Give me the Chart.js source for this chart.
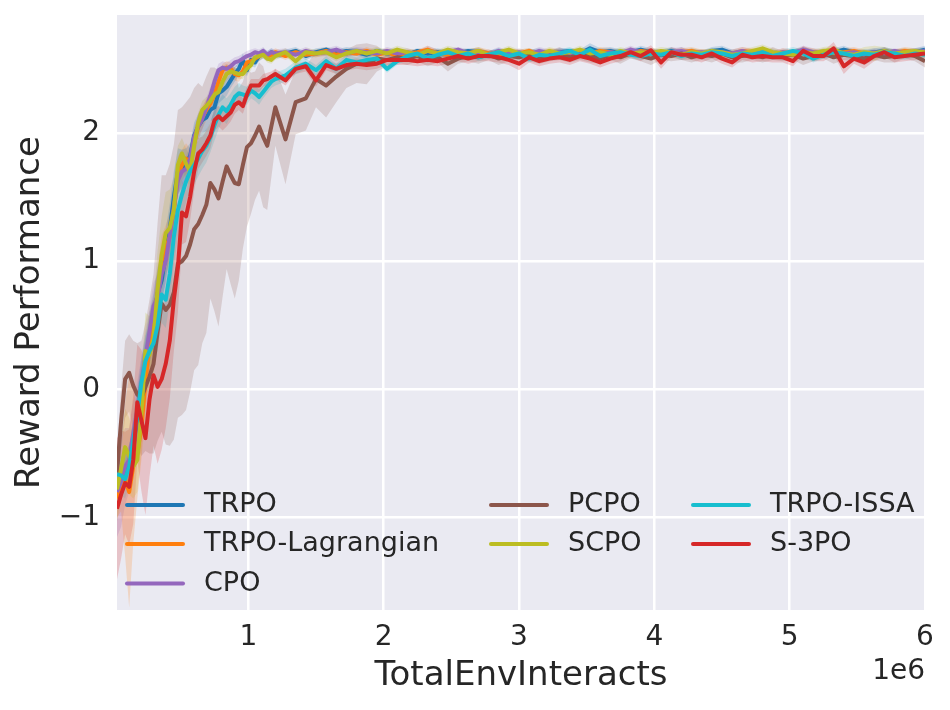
<!DOCTYPE html>
<html><head><meta charset="utf-8">
<script src="https://cdn.jsdelivr.net/npm/chart.js@4.4.0/dist/chart.umd.min.js"></script>
<style>html,body{margin:0;padding:0;background:#fff}#wrap{width:950px;height:710px;position:relative}</style>
</head><body><div id="wrap"><canvas id="c"></canvas></div>
<script>
// ---- data ----
const steps = [30000,60000,90000,120000,150000,180000,210000,240000,270000,300000,
330000,360000,390000,420000,450000,480000,510000,540000,570000,600000,
630000,660000,690000,720000,750000,780000,810000,840000,870000,900000,
930000,960000,990000,1020000,1050000,1080000,1110000,1140000,1170000,1200000,
1275000,1350000,1425000,1500000,1575000,1650000,1725000,1800000,1875000,1950000,
2025000,2100000,2175000,2250000,2325000,2400000,2475000,2550000,2625000,2700000,
2775000,2850000,2925000,3000000,3075000,3150000,3225000,3300000,3375000,3450000,
3525000,3600000,3675000,3750000,3825000,3900000,3975000,4050000,4125000,4200000,
4275000,4350000,4425000,4500000,4575000,4650000,4725000,4800000,4875000,4950000,
5025000,5100000,5175000,5250000,5325000,5400000,5475000,5550000,5625000,5700000,
5775000,5850000,5925000,6000000];

const seriesNames = ['TRPO','TRPO-Lagrangian','CPO','PCPO','SCPO','TRPO-ISSA','S-3PO'];
const seriesColors = ['#1f77b4','#ff7f0e','#9467bd','#8c564b','#bcbd22','#17becf','#d62728'];

const trpo = [-0.75,-0.70,-0.62,-0.58,-0.45,-0.20,0.00,0.20,0.40,0.55,
0.75,0.85,1.05,1.25,1.50,1.70,1.72,1.76,1.82,1.98,
2.05,2.10,2.12,2.18,2.20,2.31,2.33,2.36,2.41,2.46,
2.50,2.57,2.49,2.57,2.55,2.60,2.62,2.60,2.63,2.61,
2.62,2.64,2.60,2.63,2.65,2.62,2.64,2.63,2.61,2.64,
2.62,2.63,2.61,2.64,2.62,2.63,2.61,2.62,2.64,2.63,
2.61,2.63,2.62,2.60,2.62,2.63,2.61,2.63,2.64,2.62,
2.66,2.63,2.64,2.62,2.63,2.65,2.63,2.62,2.64,2.62,
2.63,2.61,2.64,2.65,2.62,2.63,2.61,2.63,2.62,2.60,
2.63,2.64,2.62,2.61,2.63,2.65,2.63,2.62,2.63,2.64,
2.62,2.63,2.63,2.65];
const trpoStd = [0.10,0.10,0.12,0.15,0.15,0.18,0.20,0.20,0.20,0.20,
0.20,0.20,0.20,0.20,0.20,0.18,0.15,0.12,0.10,0.10,
0.10,0.10,0.10,0.09,0.08,0.08,0.07,0.07,0.06,0.06,
0.05,0.05,0.05,0.05,0.04,0.04,0.04,0.04,0.03,0.03,
0.03,0.03,0.03,0.03,0.02,0.03,0.03,0.03,0.03,0.02,
0.03,0.03,0.03,0.02,0.03,0.03,0.03,0.03,0.02,0.03,
0.03,0.03,0.02,0.03,0.03,0.03,0.03,0.03,0.02,0.03,
0.04,0.03,0.03,0.03,0.02,0.03,0.03,0.03,0.03,0.02,
0.03,0.03,0.03,0.03,0.03,0.02,0.03,0.03,0.03,0.03,
0.02,0.03,0.03,0.03,0.03,0.03,0.02,0.03,0.03,0.03,
0.03,0.02,0.03,0.03];

const trpoLag = [-0.85,-0.75,-0.70,-0.80,-0.60,-0.50,-0.30,0.05,0.35,0.50,
0.75,1.00,1.10,1.19,1.40,1.67,1.75,1.80,1.78,1.92,
2.05,2.12,2.18,2.23,2.30,2.40,2.49,2.51,2.50,2.46,
2.45,2.48,2.55,2.56,2.58,2.60,2.62,2.59,2.61,2.63,
2.60,2.63,2.61,2.62,2.64,2.61,2.63,2.62,2.64,2.61,
2.63,2.60,2.62,2.63,2.65,2.62,2.61,2.63,2.62,2.64,
2.62,2.61,2.63,2.62,2.64,2.61,2.63,2.62,2.60,2.63,
2.62,2.64,2.63,2.61,2.62,2.64,2.63,2.62,2.61,2.63,
2.64,2.62,2.63,2.61,2.62,2.64,2.63,2.62,2.61,2.63,
2.62,2.64,2.63,2.62,2.61,2.63,2.64,2.62,2.61,2.63,
2.62,2.64,2.63,2.62];
const trpoLagStd = [0.15,0.20,0.60,0.90,0.60,0.35,0.25,0.25,0.25,0.22,
0.20,0.20,0.18,0.18,0.15,0.15,0.12,0.12,0.10,0.10,
0.10,0.09,0.08,0.08,0.07,0.06,0.05,0.05,0.05,0.05,
0.05,0.04,0.04,0.04,0.04,0.04,0.03,0.03,0.03,0.03,
0.03,0.03,0.02,0.03,0.03,0.03,0.03,0.02,0.03,0.03,
0.03,0.03,0.03,0.02,0.03,0.03,0.03,0.02,0.03,0.03,
0.03,0.03,0.03,0.03,0.02,0.03,0.03,0.03,0.03,0.03,
0.02,0.03,0.03,0.03,0.03,0.02,0.03,0.03,0.03,0.03,
0.03,0.03,0.02,0.03,0.03,0.03,0.03,0.02,0.03,0.03,
0.03,0.03,0.03,0.02,0.03,0.03,0.03,0.03,0.02,0.03,
0.03,0.03,0.03,0.03];

const cpo = [-0.80,-0.72,-0.60,-0.55,-0.34,-0.16,0.05,0.25,0.45,0.65,
0.72,0.90,1.00,1.20,1.42,1.63,1.70,1.72,1.80,1.97,
2.05,2.11,2.20,2.29,2.40,2.49,2.51,2.50,2.52,2.55,
2.56,2.58,2.60,2.61,2.63,2.62,2.64,2.61,2.63,2.62,
2.63,2.61,2.64,2.62,2.63,2.65,2.62,2.64,2.63,2.62,
2.64,2.62,2.63,2.61,2.64,2.62,2.63,2.65,2.62,2.63,
2.61,2.64,2.62,2.63,2.61,2.64,2.62,2.63,2.62,2.64,
2.63,2.61,2.63,2.62,2.65,2.63,2.62,2.61,2.63,2.64,
2.62,2.63,2.61,2.63,2.62,2.64,2.62,2.63,2.61,2.63,
2.62,2.65,2.63,2.62,2.64,2.62,2.63,2.61,2.63,2.62,
2.64,2.62,2.63,2.64];
const cpoStd = [0.35,0.35,0.30,0.25,0.25,0.22,0.20,0.20,0.18,0.18,
0.18,0.18,0.18,0.15,0.15,0.12,0.10,0.10,0.10,0.08,
0.08,0.08,0.07,0.07,0.06,0.05,0.05,0.05,0.05,0.04,
0.04,0.04,0.04,0.04,0.03,0.03,0.03,0.03,0.03,0.03,
0.03,0.03,0.03,0.02,0.03,0.03,0.03,0.03,0.03,0.02,
0.03,0.03,0.03,0.03,0.04,0.03,0.03,0.02,0.03,0.03,
0.03,0.03,0.02,0.03,0.03,0.03,0.03,0.03,0.03,0.02,
0.03,0.03,0.03,0.03,0.03,0.02,0.03,0.03,0.03,0.03,
0.03,0.02,0.03,0.03,0.03,0.03,0.03,0.02,0.03,0.03,
0.03,0.03,0.03,0.03,0.02,0.03,0.03,0.03,0.03,0.03,
0.02,0.03,0.03,0.03];

const pcpo = [-0.65,-0.25,0.08,0.13,0.03,-0.04,-0.07,0.02,0.10,0.20,
0.45,0.67,0.62,0.66,0.76,0.98,1.00,1.04,1.13,1.25,
1.29,1.36,1.44,1.61,1.56,1.49,1.62,1.74,1.67,1.61,
1.60,1.75,1.89,1.92,1.98,2.05,1.97,1.90,2.05,2.20,
1.95,2.24,2.27,2.42,2.37,2.44,2.50,2.54,2.54,2.58,
2.57,2.59,2.58,2.60,2.57,2.59,2.54,2.58,2.60,2.59,
2.61,2.58,2.60,2.59,2.61,2.58,2.60,2.62,2.59,2.61,
2.60,2.58,2.61,2.59,2.62,2.60,2.58,2.61,2.60,2.62,
2.59,2.61,2.60,2.62,2.59,2.60,2.61,2.59,2.62,2.60,
2.61,2.58,2.60,2.62,2.59,2.61,2.60,2.58,2.61,2.59,
2.60,2.62,2.60,2.56];
const pcpoStd = [0.15,0.25,0.30,0.30,0.35,0.40,0.45,0.50,0.60,0.70,
0.85,1.00,1.05,1.10,1.15,1.20,1.20,1.20,1.15,1.10,
1.10,1.00,1.00,0.90,0.95,1.00,0.90,0.80,0.85,0.90,
0.75,0.65,0.62,0.55,0.50,0.50,0.55,0.50,0.40,0.30,
0.35,0.25,0.25,0.22,0.25,0.20,0.15,0.15,0.16,0.10,
0.05,0.04,0.05,0.04,0.05,0.04,0.06,0.04,0.04,0.05,
0.04,0.05,0.04,0.04,0.05,0.04,0.04,0.05,0.04,0.04,
0.05,0.04,0.04,0.05,0.04,0.04,0.05,0.04,0.04,0.05,
0.04,0.04,0.05,0.04,0.04,0.05,0.04,0.04,0.05,0.04,
0.04,0.05,0.04,0.04,0.05,0.04,0.04,0.05,0.04,0.04,
0.05,0.04,0.04,0.05];

const scpo = [-0.78,-0.62,-0.45,-0.52,-0.60,-0.55,-0.20,0.30,0.27,0.40,
0.78,1.05,1.22,1.26,1.40,1.75,1.84,1.76,1.70,1.90,
2.08,2.18,2.21,2.25,2.30,2.32,2.40,2.46,2.48,2.47,
2.46,2.46,2.50,2.53,2.59,2.60,2.61,2.58,2.57,2.60,
2.63,2.56,2.63,2.62,2.63,2.59,2.62,2.64,2.62,2.64,
2.62,2.65,2.63,2.61,2.64,2.62,2.65,2.63,2.62,2.64,
2.61,2.63,2.65,2.62,2.63,2.61,2.64,2.62,2.63,2.65,
2.62,2.63,2.61,2.64,2.62,2.63,2.62,2.64,2.63,2.61,
2.63,2.62,2.64,2.63,2.61,2.62,2.64,2.66,2.63,2.62,
2.61,2.63,2.62,2.64,2.65,2.62,2.61,2.63,2.62,2.64,
2.62,2.63,2.64,2.63];
const scpoStd = [0.25,0.25,0.30,0.30,0.25,0.25,0.30,0.30,0.30,0.30,
0.30,0.30,0.32,0.30,0.25,0.15,0.12,0.12,0.12,0.10,
0.08,0.07,0.07,0.06,0.06,0.05,0.05,0.05,0.05,0.04,
0.04,0.04,0.04,0.04,0.03,0.03,0.03,0.03,0.03,0.03,
0.03,0.04,0.03,0.03,0.03,0.03,0.03,0.02,0.03,0.03,
0.03,0.03,0.03,0.03,0.02,0.03,0.03,0.03,0.03,0.03,
0.03,0.02,0.03,0.03,0.03,0.03,0.03,0.03,0.02,0.03,
0.03,0.03,0.03,0.03,0.03,0.02,0.03,0.03,0.03,0.03,
0.03,0.03,0.02,0.03,0.03,0.03,0.03,0.03,0.03,0.02,
0.03,0.03,0.03,0.03,0.03,0.03,0.03,0.04,0.06,0.03,
0.03,0.03,0.02,0.03];

const trpoIssa = [-0.66,-0.67,-0.70,-0.60,-0.40,-0.20,0.05,0.22,0.30,0.36,
0.50,0.74,0.70,0.90,1.19,1.40,1.52,1.62,1.70,1.75,
1.80,1.86,1.90,1.97,2.06,2.14,2.20,2.17,2.22,2.28,
2.31,2.30,2.29,2.33,2.31,2.28,2.32,2.36,2.40,2.42,
2.45,2.51,2.54,2.49,2.56,2.50,2.57,2.55,2.57,2.58,
2.50,2.56,2.60,2.62,2.58,2.61,2.63,2.60,2.62,2.59,
2.61,2.63,2.60,2.62,2.58,2.61,2.60,2.62,2.64,2.61,
2.65,2.60,2.62,2.63,2.61,2.60,2.62,2.61,2.63,2.60,
2.62,2.61,2.63,2.62,2.60,2.62,2.61,2.63,2.60,2.62,
2.64,2.62,2.58,2.61,2.63,2.62,2.60,2.62,2.61,2.63,
2.62,2.60,2.62,2.61];
const trpoIssaStd = [0.15,0.15,0.15,0.15,0.18,0.20,0.20,0.20,0.20,0.20,
0.20,0.22,0.22,0.22,0.22,0.20,0.18,0.16,0.15,0.15,
0.14,0.14,0.13,0.12,0.12,0.11,0.10,0.10,0.09,0.08,
0.08,0.07,0.07,0.06,0.06,0.06,0.05,0.05,0.05,0.05,
0.05,0.05,0.04,0.04,0.04,0.04,0.04,0.04,0.03,0.03,
0.03,0.03,0.03,0.03,0.03,0.03,0.03,0.03,0.03,0.03,
0.03,0.03,0.03,0.03,0.03,0.03,0.03,0.03,0.03,0.03,
0.03,0.03,0.03,0.03,0.03,0.03,0.03,0.03,0.03,0.03,
0.03,0.03,0.03,0.03,0.03,0.03,0.03,0.03,0.03,0.03,
0.03,0.03,0.03,0.03,0.03,0.03,0.03,0.03,0.03,0.03,
0.03,0.03,0.03,0.03];

const s3po = [-0.93,-0.82,-0.73,-0.76,-0.55,-0.10,-0.24,-0.38,-0.08,0.11,
0.02,0.08,0.20,0.38,0.70,0.95,1.38,1.35,1.50,1.70,
1.84,1.87,1.92,1.98,2.10,2.13,2.10,2.13,2.16,2.22,
2.24,2.21,2.30,2.37,2.37,2.37,2.41,2.42,2.44,2.46,
2.41,2.50,2.52,2.41,2.53,2.50,2.53,2.54,2.53,2.54,
2.57,2.57,2.57,2.56,2.57,2.56,2.58,2.60,2.58,2.60,
2.60,2.59,2.57,2.54,2.59,2.56,2.58,2.59,2.57,2.60,
2.58,2.55,2.58,2.60,2.63,2.60,2.645,2.55,2.63,2.61,
2.61,2.59,2.62,2.58,2.55,2.61,2.59,2.60,2.59,2.59,
2.56,2.64,2.60,2.60,2.66,2.52,2.58,2.55,2.60,2.63,
2.59,2.60,2.61,2.62];
const s3poStd = [0.55,0.50,0.40,0.45,0.50,0.45,0.55,0.60,0.60,0.55,
0.60,0.55,0.50,0.45,0.40,0.35,0.25,0.20,0.18,0.15,
0.12,0.10,0.10,0.10,0.09,0.08,0.08,0.08,0.07,0.07,
0.06,0.06,0.06,0.05,0.05,0.05,0.05,0.05,0.04,0.04,
0.04,0.04,0.04,0.05,0.04,0.04,0.04,0.04,0.04,0.04,
0.04,0.04,0.04,0.04,0.04,0.04,0.04,0.04,0.04,0.04,
0.04,0.04,0.04,0.05,0.04,0.04,0.04,0.04,0.04,0.04,
0.04,0.04,0.04,0.04,0.04,0.04,0.04,0.05,0.04,0.04,
0.04,0.04,0.04,0.04,0.04,0.04,0.04,0.04,0.04,0.04,
0.04,0.04,0.04,0.04,0.05,0.06,0.04,0.05,0.04,0.04,
0.04,0.04,0.04,0.04];

const xTickValues = [1000000,2000000,3000000,4000000,5000000,6000000];
const yTickValues = [-1,0,1,2];
const xTitle = 'TotalEnvInteracts';
const yTitle = 'Reward Performance';
const offsetText = '1e6';

// ---- build ----
const means = [trpo, trpoLag, cpo, pcpo, scpo, trpoIssa, s3po];
const stds = [trpoStd, trpoLagStd, cpoStd, pcpoStd, scpoStd, trpoIssaStd, s3poStd];
const TEXT = '#262626';
const FONT = '"DejaVu Sans"';

function rgba(hex, a) {
  const n = parseInt(hex.slice(1), 16);
  return `rgba(${(n>>16)&255},${(n>>8)&255},${n&255},${a})`;
}

const datasets = [];
means.forEach((m, i) => {
  const s = stds[i];
  datasets.push({
    label: seriesNames[i] + ' lower',
    data: steps.map((x, j) => ({x, y: m[j] - s[j]})),
    borderWidth: 0, pointRadius: 0, fill: false, order: 100
  });
  datasets.push({
    label: seriesNames[i] + ' upper',
    data: steps.map((x, j) => ({x, y: m[j] + s[j]})),
    borderWidth: 0, pointRadius: 0, fill: '-1',
    backgroundColor: rgba(seriesColors[i], 0.2), order: 100
  });
  datasets.push({
    label: seriesNames[i],
    data: steps.map((x, j) => ({x, y: m[j]})),
    borderColor: seriesColors[i], borderWidth: 4, pointRadius: 0,
    fill: false, tension: 0, borderJoinStyle: 'round', borderCapStyle: 'butt',
    order: 20 - i
  });
});

const decor = {
  id: 'decor',
  beforeDraw(chart) {
    const {ctx, chartArea: a} = chart;
    ctx.save();
    ctx.fillStyle = '#EAEAF2';
    ctx.fillRect(a.left, a.top, a.right - a.left, a.bottom - a.top);
    ctx.restore();
  },
  afterDraw(chart) {
    const {ctx, chartArea: a} = chart;
    ctx.save();
    ctx.fillStyle = TEXT;
    ctx.font = `34px ${FONT}`;
    ctx.textAlign = 'center';
    ctx.textBaseline = 'middle';
    ctx.fillText(xTitle, (a.left + a.right) / 2, 676);
    ctx.save();
    ctx.translate(30, (a.top + a.bottom) / 2);
    ctx.rotate(-Math.PI / 2);
    ctx.fillText(yTitle, 0, 0);
    ctx.restore();
    ctx.font = `28px ${FONT}`;
    ctx.textAlign = 'right';
    ctx.fillText(offsetText, a.right, 672);
    const colX = [a.left + 10, a.left + 374, a.left + 576];
    const rowY = [a.bottom - 105, a.bottom - 66, a.bottom - 26.5];
    const perCol = [3, 2, 2];
    let idx = 0;
    ctx.font = `27px ${FONT}`;
    ctx.textAlign = 'left';
    for (let c = 0; c < 3; c++) {
      for (let r = 0; r < perCol[c]; r++) {
        const x = colX[c], y = rowY[r];
        ctx.strokeStyle = seriesColors[idx];
        ctx.lineWidth = 4;
        ctx.lineCap = 'round';
        ctx.beginPath(); ctx.moveTo(x, y); ctx.lineTo(x + 56, y); ctx.stroke();
        ctx.fillStyle = TEXT;
        ctx.fillText(seriesNames[idx], x + 77, y);
        idx++;
      }
    }
    ctx.restore();
  }
};

new Chart(document.getElementById('c'), {
  type: 'line',
  data: {datasets},
  options: {
    responsive: true, maintainAspectRatio: false, animation: false,
    events: [],
    layout: {padding: {left: 0, right: 25, top: 15, bottom: 0}},
    plugins: {legend: {display: false}, tooltip: {enabled: false}},
    scales: {
      x: {
        type: 'linear', min: 30000, max: 6000000,
        afterBuildTicks: s => { s.ticks = xTickValues.map(v => ({value: v})); },
        afterFit: s => { s.height = 100; s.paddingLeft = 0; s.paddingRight = 0; },
        ticks: {
          color: TEXT, font: {family: 'DejaVu Sans', size: 28}, padding: 11,
          maxRotation: 0, autoSkip: false,
          callback: v => String(v / 1000000)
        },
        grid: {color: '#ffffff', lineWidth: 2.5, drawTicks: false},
        border: {display: false}
      },
      y: {
        type: 'linear', min: -1.72, max: 2.92,
        afterBuildTicks: s => { s.ticks = yTickValues.map(v => ({value: v})); },
        afterFit: s => { s.width = 117; s.paddingTop = 0; s.paddingBottom = 0; },
        ticks: {
          color: TEXT, font: {family: 'DejaVu Sans', size: 28}, padding: 17,
          callback: v => (v < 0 ? '\u2212' + Math.abs(v) : String(v))
        },
        grid: {color: '#ffffff', lineWidth: 2.5, drawTicks: false},
        border: {display: false}
      }
    }
  },
  plugins: [decor]
});
</script>
</body></html>
